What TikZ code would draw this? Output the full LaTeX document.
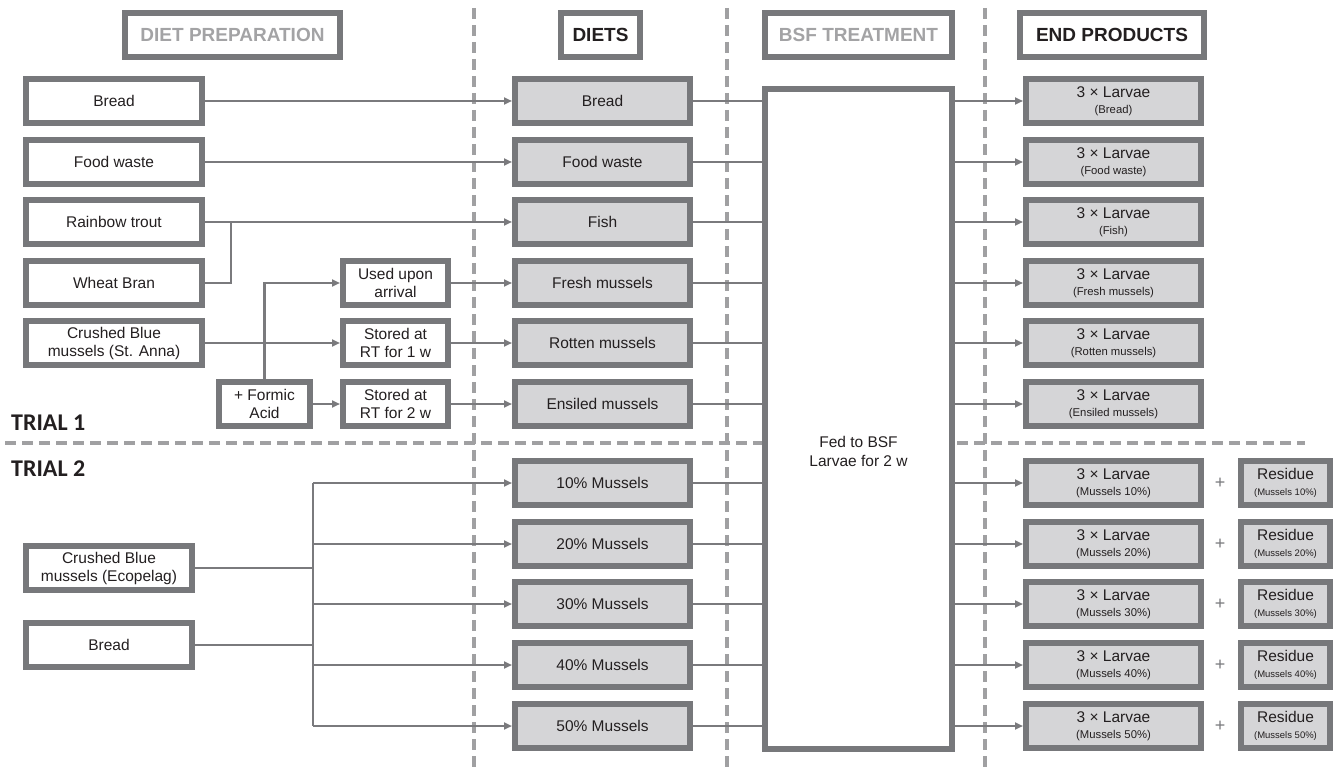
\documentclass[tikz,border=0pt]{standalone}
\usepackage{fontspec}
\setmainfont{Liberation Sans}
\newfontfamily\trialfont{Carlito}
\usetikzlibrary{arrows.meta}
\definecolor{boxgray}{HTML}{77787B}
\definecolor{linegray}{HTML}{7A7A7D}
\definecolor{dietfill}{HTML}{D5D5D7}
\definecolor{hdrgray}{HTML}{A3A3A5}
\definecolor{dashgray}{HTML}{A0A0A2}
\definecolor{txtblack}{HTML}{231F20}
\begin{document}
\begin{tikzpicture}[x=1pt, y=-1pt,
	every node/.style={text=txtblack, align=center, inner sep=0pt},
	gbox/.style={draw=boxgray, line width=6pt, fill=white, minimum height=44pt, font=\fontsize{15.5}{18}\selectfont},
	hdr/.style={gbox, font=\bfseries\fontsize{19}{22}\selectfont},
	srcbox/.style={gbox, minimum width=176pt},
	midbox/.style={gbox, minimum width=105pt},
	dietbox/.style={gbox, fill=dietfill, minimum width=175pt},
	prodbox/.style={gbox, fill=dietfill, minimum width=175pt, font=\fontsize{15.5}{16}\selectfont},
	resbox/.style={gbox, fill=dietfill, minimum width=89pt, font=\fontsize{15.5}{16}\selectfont},
	conn/.style={draw=linegray, line width=2.5pt},
	arr/.style={conn, -{Triangle[length=8pt,width=7pt]}},
	divider/.style={draw=dashgray, line width=4pt, dash pattern=on 11pt off 6pt},
	trial/.style={anchor=west, font=\trialfont\bfseries\fontsize{24}{27}\selectfont}]
	\useasboundingbox (0,0) rectangle (1334,770);
	
	%dividers
	\foreach \x in {474, 727, 985}{
		\draw[divider] (\x,8)--(\x,768);
	}
	\draw[divider] (5,443)--(1305,443);
	
	%headers
	\node (hprep) at (232.5,35) [hdr, minimum width=215pt, text=hdrgray]{DIET PREPARATION};
	\node (hdiets) at (600.5,35) [hdr, minimum width=79pt]{DIETS};
	\node (hbsf) at (858.5,35) [hdr, minimum width=187pt, text=hdrgray]{BSF TREATMENT};
	\node (hend) at (1112,35) [hdr, minimum width=184pt]{END PRODUCTS};
	
	\node (trial1) at (11,423) [trial]{TRIAL 1};
	\node (trial2) at (11,469) [trial]{TRIAL 2};
	
	%trial 1
	\node (bread) at (114,101) [srcbox]{Bread};
	\node (food) at (114,162) [srcbox]{Food waste};
	\node (trout) at (114,222) [srcbox]{Rainbow trout};
	\node (bran) at (114,283) [srcbox]{Wheat Bran};
	\node (anna) at (114,343) [srcbox]{Crushed Blue\\mussels (St. Anna)};
	
	\node (used) at (395.5,283) [midbox]{Used upon\\arrival};
	\node (stored1) at (395.5,343) [midbox]{Stored at\\RT for 1 w};
	\node (stored2) at (395.5,404) [midbox]{Stored at\\RT for 2 w};
	\node (formic) at (264.5,404) [gbox, minimum width=91pt]{+ Formic\\Acid};
	
	\node (dbread) at (602.5,101) [dietbox]{Bread};
	\node (dfood) at (602.5,162) [dietbox]{Food waste};
	\node (dfish) at (602.5,222) [dietbox]{Fish};
	\node (dfresh) at (602.5,283) [dietbox]{Fresh mussels};
	\node (drotten) at (602.5,343) [dietbox]{Rotten mussels};
	\node (densiled) at (602.5,404) [dietbox]{Ensiled mussels};
	
	%trial 2
	\node (eco) at (109,568) [gbox, minimum width=166pt]{Crushed Blue\\mussels (Ecopelag)};
	\node (bread2) at (109,645) [gbox, minimum width=166pt]{Bread};
	\coordinate (trunktop) at (313,483);
	\coordinate (trunkbot) at (313,726);
	
	\foreach \p/\y in {10/483, 20/544, 30/604, 40/665, 50/726}{
		\node (d\p) at (602.5,\y) [dietbox]{\p\% Mussels};
		\node (p\p) at (1113.5,\y) [prodbox]{3 × Larvae\\{\fontsize{11.3}{13}\selectfont (Mussels \p\%)}};
		\node (plus\p) at (1220,\y) [text=boxgray, font=\fontsize{18}{20}\selectfont]{+};
		\node (r\p) at (1285.5,\y) [resbox]{Residue\\{\fontsize{9.5}{11}\selectfont (Mussels \p\%)}};
	}
	
	%BSF treatment
	\node (bsf) at (858.5,419) [gbox, minimum width=187pt, minimum height=660pt]{};
	\node (fed) at (858.5,451) [font=\fontsize{15.5}{19}\selectfont]{Fed to BSF\\Larvae for 2 w};
	
	\foreach \n/\t/\y in {bread/Bread/101, food/Food waste/162, fish/Fish/222, fresh/Fresh mussels/283, rotten/Rotten mussels/343, ensiled/Ensiled mussels/404}{
		\node (p\n) at (1113.5,\y) [prodbox]{3 × Larvae\\{\fontsize{11.3}{13}\selectfont (\t)}};
	}
	
	%connectors
	\draw[arr] (bread.east)--(dbread.west);
	\draw[arr] (food.east)--(dfood.west);
	\draw[arr] (trout.east)--(dfish.west);
	\draw[conn] (bran.east)-|(231,222);
	\draw[arr] (anna.east)--(stored1.west);
	\draw[arr] (formic.north)|-(used.west);
	\draw[arr] (formic.east)--(stored2.west);
	\draw[arr] (used.east)--(dfresh.west);
	\draw[arr] (stored1.east)--(drotten.west);
	\draw[arr] (stored2.east)--(densiled.west);
	
	\draw[conn] (eco.east)--(eco.east-|trunktop);
	\draw[conn] (bread2.east)--(bread2.east-|trunktop);
	\draw[conn] (trunktop)--(trunkbot);
	
	\foreach \n in {bread, food, fish, fresh, rotten, ensiled, 10, 20, 30, 40, 50}{
		\draw[conn] (d\n.east)--(d\n.east-|bsf.west);
		\draw[arr] (p\n.west-|bsf.east)--(p\n.west);
	}
	\foreach \p in {10, 20, 30, 40, 50}{
		\draw[arr] (d\p.west-|trunktop)--(d\p.west);
	}
\end{tikzpicture}
\end{document}
